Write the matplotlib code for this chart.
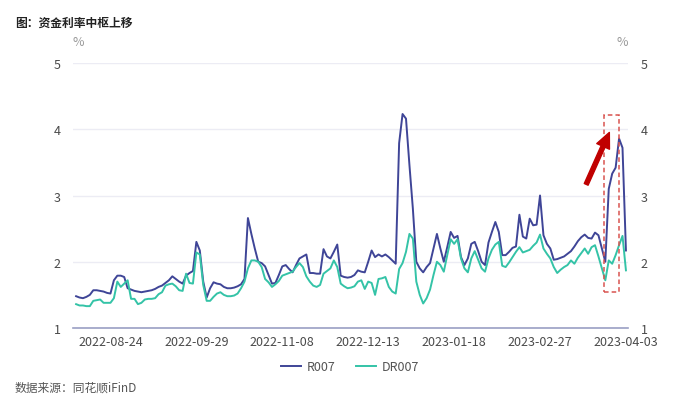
import numpy as np
import matplotlib
matplotlib.use('Agg')
import matplotlib.pyplot as plt
from matplotlib.patches import Rectangle

plt.rcParams['font.family'] = ['Noto Sans CJK SC', 'DejaVu Sans']

### values, one per trading day ###
r007 = [1.48, 1.46, 1.45, 1.47, 1.50, 1.57, 1.57, 1.56, 1.55, 1.53,
        1.52, 1.72, 1.79, 1.79, 1.77, 1.60, 1.58, 1.56, 1.55, 1.54,
        1.55, 1.56, 1.57, 1.59, 1.62, 1.64, 1.68, 1.72, 1.78, 1.74,
        1.70, 1.67, 1.79, 1.83, 1.86, 2.30, 2.17, 1.70, 1.46, 1.60,
        1.69, 1.67, 1.66, 1.62, 1.60, 1.60, 1.61, 1.63, 1.66, 1.74,
        2.66, 2.42, 2.20, 2.00, 1.98, 1.93, 1.80, 1.67, 1.68, 1.80,
        1.93, 1.95, 1.89, 1.84, 1.95, 2.05, 2.08, 2.11, 1.83, 1.83,
        1.82, 1.82, 2.19, 2.08, 2.05, 2.15, 2.26, 1.79, 1.77, 1.76,
        1.77, 1.80, 1.87, 1.85, 1.84, 2.00, 2.17, 2.07, 2.11, 2.08,
        2.11, 2.07, 2.02, 1.97, 3.79, 4.23, 4.16, 3.46, 2.80, 2.00,
        1.90, 1.84, 1.92, 1.98, 2.20, 2.42, 2.20, 2.00, 2.22, 2.45,
        2.36, 2.39, 2.07, 1.95, 2.05, 2.27, 2.30, 2.16, 2.00, 1.95,
        2.29, 2.45, 2.60, 2.45, 2.10, 2.10, 2.15, 2.21, 2.23, 2.71,
        2.38, 2.35, 2.65, 2.55, 2.56, 3.00, 2.40, 2.27, 2.20, 2.03,
        2.04, 2.06, 2.08, 2.12, 2.16, 2.23, 2.31, 2.37, 2.41, 2.36,
        2.35, 2.44, 2.40, 2.20, 2.00, 3.10, 3.33, 3.42, 3.86, 3.72,
        2.17]

dr007 = [1.36, 1.34, 1.34, 1.33, 1.33, 1.41, 1.42, 1.43, 1.38, 1.38,
         1.38, 1.45, 1.70, 1.62, 1.67, 1.72, 1.44, 1.44, 1.36, 1.38,
         1.43, 1.44, 1.44, 1.45, 1.51, 1.54, 1.64, 1.66, 1.67, 1.63,
         1.57, 1.56, 1.82, 1.68, 1.67, 2.14, 2.11, 1.65, 1.41, 1.41,
         1.47, 1.52, 1.54, 1.50, 1.48, 1.48, 1.49, 1.52, 1.60, 1.70,
         1.90, 2.02, 2.02, 2.00, 1.92, 1.74, 1.69, 1.62, 1.66, 1.71,
         1.79, 1.81, 1.83, 1.85, 1.92, 1.98, 1.92, 1.78, 1.70, 1.64,
         1.62, 1.65, 1.82, 1.86, 1.90, 2.02, 1.92, 1.67, 1.63, 1.60,
         1.61, 1.63, 1.70, 1.72, 1.59, 1.70, 1.68, 1.50, 1.74, 1.75,
         1.77, 1.62, 1.55, 1.52, 1.89, 1.98, 2.15, 2.42, 2.35, 1.70,
         1.50, 1.37, 1.45, 1.58, 1.80, 2.00, 1.95, 1.85, 2.10, 2.34,
         2.27, 2.34, 2.05, 1.90, 1.84, 2.05, 2.16, 2.03, 1.90, 1.85,
         2.05, 2.18, 2.26, 2.30, 1.94, 1.92, 1.99, 2.07, 2.15, 2.22,
         2.14, 2.16, 2.18, 2.24, 2.29, 2.41, 2.20, 2.12, 2.05, 1.92,
         1.83, 1.88, 1.92, 1.95, 2.02, 1.97, 2.06, 2.13, 2.20, 2.12,
         2.22, 2.25, 2.08, 1.90, 1.72, 2.02, 1.97, 2.10, 2.25, 2.39,
         1.87]

tick_idx = [10, 35, 60, 85, 110, 135, 160]
tick_labels = ['2022-08-24', '2022-09-29', '2022-11-08', '2022-12-13',
               '2023-01-18', '2023-02-27', '2023-04-03']
y_ticks = [1, 2, 3, 4, 5]
hl_start, hl_end = 154, 158     # highlighted quarter-end days

x = np.arange(len(r007))

fig = plt.figure(figsize=(7, 4.14), dpi=100)
ax = fig.add_axes([73 / 700, 85 / 414, 555 / 700, 265 / 414])

ax.plot(x, r007, color='#3f4597', lw=1.4, label='R007', zorder=3)
ax.plot(x, dr007, color='#34c3a7', lw=1.4, label='DR007', zorder=3)

ax.set_xlim(-0.9, len(r007) - 0.4)
ax.set_ylim(1, 5)
ax.set_yticks(y_ticks)
ax.set_xticks(tick_idx)
ax.set_xticklabels(tick_labels)
ax.yaxis.grid(True, color='#ececf4', lw=1)
ax.set_axisbelow(True)
for s in ['top', 'right', 'left']:
    ax.spines[s].set_visible(False)
ax.spines['bottom'].set_color('#9a9fc4')
ax.spines['bottom'].set_linewidth(1.2)
ax.tick_params(axis='x', length=0, pad=5, labelsize=9, labelcolor='#4a4a4a')
ax.tick_params(axis='y', length=0, pad=9, labelsize=9, labelcolor='#4a4a4a')

ax2 = ax.twinx()
ax2.set_ylim(1, 5)
ax2.set_yticks(y_ticks)
for s in ax2.spines.values():
    s.set_visible(False)
ax2.tick_params(axis='y', length=0, pad=9, labelsize=9, labelcolor='#4a4a4a')

### highlight box + arrow ###
lo = min(dr007[hl_start:hl_end + 1]) - 0.18
hi = max(r007[hl_start:hl_end + 1]) + 0.36
ax.add_patch(Rectangle((hl_start - 0.3, lo), hl_end - hl_start + 0.3, hi - lo,
                       fill=False, ec='#d9534f', lw=1.1, ls=(0, (3, 2)), zorder=4))
ax.annotate('', xy=(155.5, 3.99), xytext=(148.1, 3.13),
            arrowprops=dict(arrowstyle='simple,head_width=1.0,head_length=1.1,tail_width=0.3',
                            color='#c00000', mutation_scale=10), zorder=5)

fig.text(78 / 700, 1 - 43 / 414, '%', fontsize=9, color='#999999', ha='center', va='center')
fig.text(622 / 700, 1 - 43 / 414, '%', fontsize=9, color='#999999', ha='center', va='center')

fig.text(15 / 700, 1 - 23 / 414, '图：资金利率中枢上移', fontsize=8.5, fontweight='bold',
         color='#222222', ha='left', va='center')
fig.text(15 / 700, 1 - 388 / 414, '数据来源：同花顺iFinD', fontsize=8.5, color='#555555',
         ha='left', va='center')

fig.legend(loc='center', bbox_to_anchor=(0.5, 1 - 368 / 414), ncol=2, frameon=False,
           fontsize=9, handlelength=1.6, columnspacing=1.6, handletextpad=0.5,
           labelcolor='#555555')

fig.savefig('out.png', dpi=100)
